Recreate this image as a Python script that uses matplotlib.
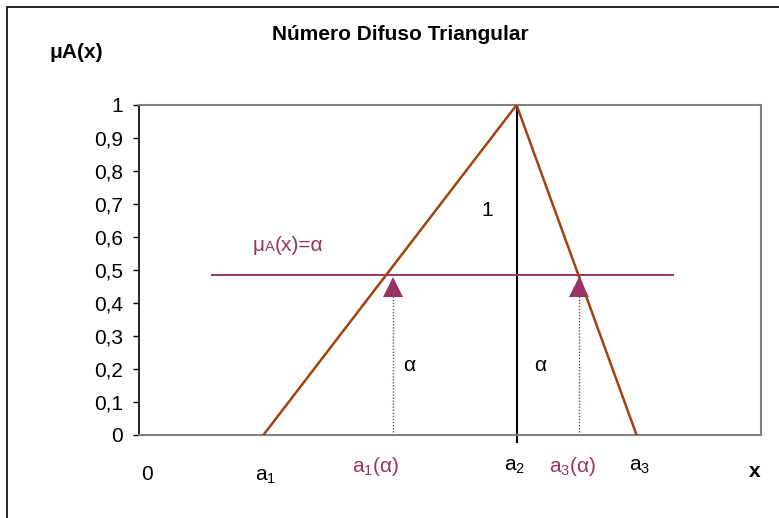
import matplotlib
matplotlib.use("Agg")
import matplotlib.pyplot as plt
from matplotlib.patches import Rectangle
from matplotlib.offsetbox import TextArea, HPacker, AnnotationBbox

plt.rcParams['font.family'] = ['Liberation Sans', 'DejaVu Sans']
plt.rcParams['mathtext.fontset'] = 'custom'
plt.rcParams['mathtext.rm'] = 'Liberation Sans'
plt.rcParams['mathtext.it'] = 'Liberation Sans'

# data
tri_x = [2.0, 6.07, 8.0]
tri_y = [0.0, 1.0, 0.0]
alpha_level = 0.485
alpha_x = [1.17, 8.59]
cut_x = [4.08, 7.07]
marker_y = 0.45
dotted_top = 0.42
yticks = [0, 0.1, 0.2, 0.3, 0.4, 0.5, 0.6, 0.7, 0.8, 0.9, 1.0]
ytick_labels = ['0', '0,1', '0,2', '0,3', '0,4', '0,5', '0,6', '0,7', '0,8', '0,9', '1']

BROWN = '#A3420E'
PURPLE = '#993366'
FS = 15

fig = plt.figure(figsize=(7.79, 5.18), dpi=100)
ax = fig.add_axes([139/779, 1-435/518, (761-139)/779, (435-105)/518])
ax.set_xlim(0, 10)
ax.set_ylim(0, 1)

# outer border
fig.patches.append(Rectangle((7/779, -0.01), 1.0, 1-7/518+0.01, transform=fig.transFigure,
                             fill=False, edgecolor='black', linewidth=1.2))

ax.plot(tri_x, tri_y, color=BROWN, lw=1.8, solid_joinstyle='miter', zorder=3)
ax.plot([tri_x[1], tri_x[1]], [-0.022, 1.0], color='black', lw=1.5, clip_on=False, zorder=2)
ax.plot(alpha_x, [alpha_level, alpha_level], color=PURPLE, lw=1.4, zorder=2)
for cx in cut_x:
    ax.plot([cx, cx], [0, dotted_top], color=PURPLE, lw=1.0, ls=(0, (1, 1.2)), zorder=2)
ax.plot(cut_x, [marker_y, marker_y], ls='none', marker='^', ms=15, color=PURPLE,
        markeredgewidth=0, zorder=4)

for side in ['top', 'right', 'bottom']:
    ax.spines[side].set_color('#808080')
    ax.spines[side].set_linewidth(1.5)
ax.spines['left'].set_color('black')
ax.spines['left'].set_linewidth(1.2)

ax.set_yticks(yticks)
ax.set_yticklabels(ytick_labels, fontsize=FS)
ax.tick_params(axis='y', direction='out', length=4.3, width=1, pad=7)
ax.set_xticks([])

fig.text(400/779, 1-35/518, 'Número Difuso Triangular', ha='center', va='center',
         fontsize=FS, fontweight='bold')
fig.text(76/779, 1-52/518, 'μA(x)', ha='center', va='center', fontsize=FS, fontweight='bold')

ax.text(5.59, 0.68, '1', fontsize=FS, ha='center', va='center')
ax.text(4.35, 0.21, 'α', fontsize=FS, ha='center', va='center')
ax.text(6.45, 0.21, 'α', fontsize=FS, ha='center', va='center')

# μA(x)=α label
parts = HPacker(children=[TextArea('μ', textprops=dict(color=PURPLE, fontsize=FS)),
                          TextArea('A', textprops=dict(color=PURPLE, fontsize=10.5)),
                          TextArea('(x)=α', textprops=dict(color=PURPLE, fontsize=FS))],
                align='baseline', pad=0, sep=0)
ab = AnnotationBbox(parts, (1.83, 0.545), xycoords='data', frameon=False,
                    box_alignment=(0, 0), pad=0)
ax.add_artist(ab)

# x labels
lab_y = -0.095
ax.text(0.13, -0.12, '0', fontsize=FS, ha='center', va='center', clip_on=False)
ax.text(2.03, -0.125, r'a$_{\mathrm{1}}$', fontsize=FS, ha='center', va='center', clip_on=False)
ax.text(3.8, lab_y, r'a$_{\mathrm{1}}$(α)', fontsize=FS, ha='center', va='center',
        color=PURPLE, clip_on=False)
ax.text(6.04, lab_y, r'a$_{\mathrm{2}}$', fontsize=FS, ha='center', va='center', clip_on=False)
ax.text(6.97, lab_y, r'a$_{\mathrm{3}}$(α)', fontsize=FS, ha='center', va='center',
        color=PURPLE, clip_on=False)
ax.text(8.05, lab_y, r'a$_{\mathrm{3}}$', fontsize=FS, ha='center', va='center', clip_on=False)
ax.text(9.9, -0.112, 'x', fontsize=FS, ha='center', va='center', fontweight='bold', clip_on=False)

fig.savefig('out.png', dpi=100)
